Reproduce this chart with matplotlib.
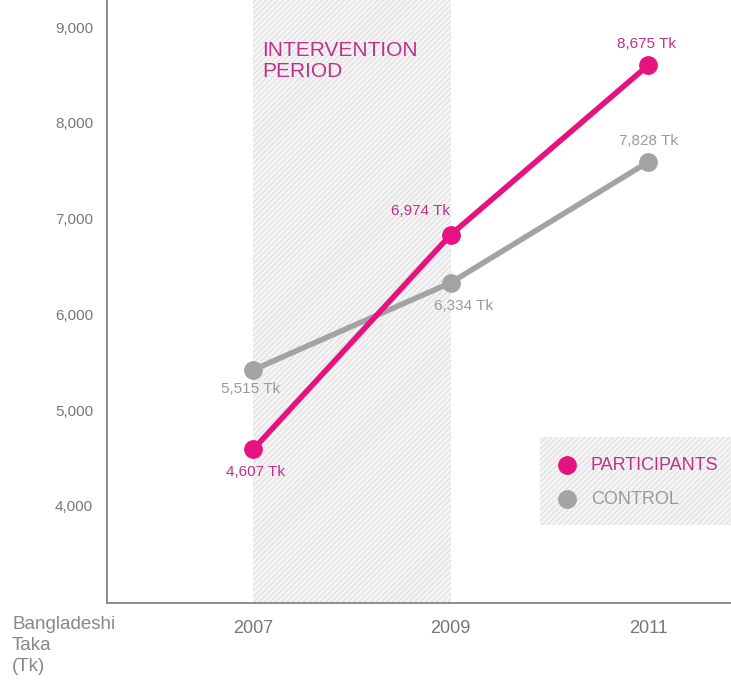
import matplotlib
matplotlib.use("Agg")
import matplotlib.pyplot as plt
from matplotlib.patches import Rectangle

years = [2007, 2009, 2011]
participants = [4590, 6830, 8600]
control = [5420, 6330, 7590]
participant_labels = ["4,607 Tk", "6,974 Tk", "8,675 Tk"]
control_labels = ["5,515 Tk", "6,334 Tk", "7,828 Tk"]
yticks = [4000, 5000, 6000, 7000, 8000, 9000]
ytick_labels = ["4,000", "5,000", "6,000", "7,000", "8,000", "9,000"]

PINK = "#e6127f"
PINK_TXT = "#c0308a"
GRAY = "#a3a3a3"
GRAY_TXT = "#9a9a9a"
AXC = "#8c8c8c"

plt.rcParams["font.family"] = ["Liberation Sans", "DejaVu Sans"]
plt.rcParams["hatch.linewidth"] = 0.6
plt.rcParams["hatch.color"] = "#d6d6d6"

W, H = 731, 687
fig = plt.figure(figsize=(W / 100, H / 100), dpi=100)
ax = fig.add_axes([107 / W, 84 / H, 624 / W, 603 / H])
ax.set_xlim(2005.52, 2011.84)
ax.set_ylim(2987, 9282)

# intervention period shading
ax.axvspan(2007, 2009, facecolor="#f4f4f4", edgecolor="#dadada", hatch="//////", lw=0, zorder=0)
fig.text(262 / W, 1 - 41 / H, "INTERVENTION\nPERIOD", color=PINK_TXT, fontsize=15,
         va="top", ha="left", linespacing=1.12)

ax.plot(years, control, color=GRAY, lw=4, marker="o", ms=12.5, zorder=3, solid_capstyle="round")
ax.plot(years, participants, color=PINK, lw=4, marker="o", ms=12.5, zorder=4, solid_capstyle="round")

# value labels (offsets in points from each point)
p_off = [(2, -16), (-22, 17), (-1, 15)]
c_off = [(-2, -14), (9, -17), (0, 15)]
for x, y, t, o in zip(years, participants, participant_labels, p_off):
    ax.annotate(t, (x, y), xytext=o, textcoords="offset points", color=PINK_TXT,
                fontsize=11, ha="center", va="center", zorder=6)
for x, y, t, o in zip(years, control, control_labels, c_off):
    ax.annotate(t, (x, y), xytext=o, textcoords="offset points", color=GRAY_TXT,
                fontsize=11, ha="center", va="center", zorder=6)

# legend box
lax = fig.add_axes([540 / W, 1 - 525 / H, (W - 540) / W, 88 / H])
lax.set_xlim(540, W)
lax.set_ylim(525, 437)
lax.axis("off")
lax.add_patch(Rectangle((0, 0), 1, 1, transform=lax.transAxes, facecolor="#f4f4f4",
                        edgecolor="#dadada", hatch="//////", lw=0, zorder=0))
lax.plot([567], [465], marker="o", ms=12.5, color=PINK, zorder=2)
lax.plot([567], [499], marker="o", ms=12.5, color=GRAY, zorder=2)
lax.text(591, 465, "PARTICIPANTS", color=PINK_TXT, fontsize=13, va="center", zorder=2)
lax.text(591, 499, "CONTROL", color=GRAY_TXT, fontsize=13, va="center", zorder=2)

ax.set_xticks(years)
ax.set_xticklabels([str(y) for y in years])
ax.set_yticks(yticks)
ax.set_yticklabels(ytick_labels)
ax.tick_params(length=0, colors="#777777")
ax.tick_params(axis="y", pad=10, labelsize=11)
ax.tick_params(axis="x", pad=12, labelsize=13)
for s in ["top", "right"]:
    ax.spines[s].set_visible(False)
for s in ["left", "bottom"]:
    ax.spines[s].set_color(AXC)
    ax.spines[s].set_linewidth(1.4)

fig.text(12 / W, 1 - 616 / H, "Bangladeshi\nTaka\n(Tk)", color="#888888", fontsize=13.5,
         va="top", ha="left", linespacing=1.3)

fig.savefig("out.png", dpi=100, facecolor="white")
